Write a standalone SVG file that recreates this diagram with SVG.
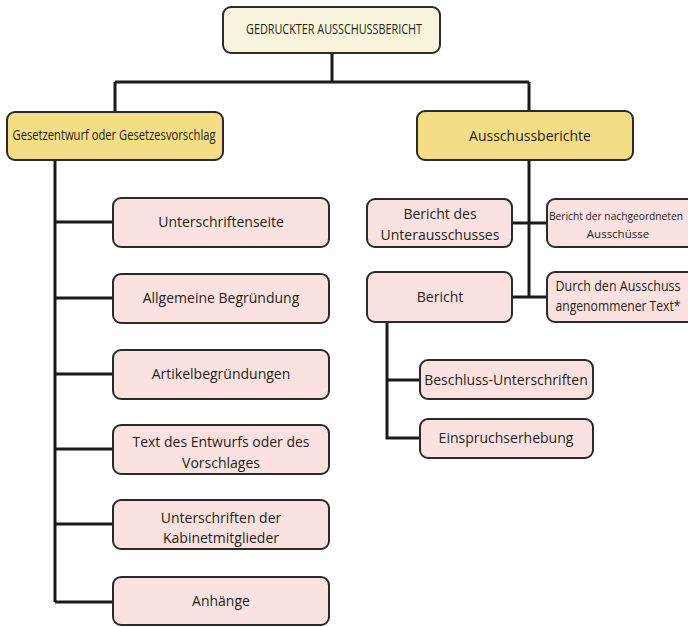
<svg xmlns="http://www.w3.org/2000/svg" width="688" height="627" viewBox="0 0 688 627">
  <style>
    .box { stroke: #2a2a2a; stroke-width: 2; }
    .root { fill: #f8f4dc; }
    .main { fill: #f5dd85; }
    .leaf { fill: #fbe1df; }
    .lbl { font-family: "Open Sans", "Liberation Sans", sans-serif; font-size: 14px; fill: #231f20; text-anchor: middle; }
    .cond { font-size: 11.5px; }
    .wire { fill: none; stroke: #1a1a1a; stroke-width: 3; }
  </style>
  <rect width="688" height="627" fill="#ffffff"/>

  <!-- connectors -->
  <g id="connectors" class="wire">
    <path d="M332 53 V82 M115 82 H529 M115 82 V112 M529 82 V111"/>
    <path d="M55 160 V602"/>
    <path d="M55 222 H113 M55 298 H113 M55 374 H113 M55 449 H113 M55 524 H113 M55 602 H113"/>
    <path d="M529 160 V297 M512 223 H547 M512 297 H547"/>
    <path d="M387 322 V438 H420 M387 380 H420"/>
  </g>

  <g id="n-root">
    <rect class="box root" x="223" y="7" width="217" height="46" rx="8"/>
    <text class="lbl" x="334" y="34" textLength="176" lengthAdjust="spacingAndGlyphs" font-size="12.5">GEDRUCKTER AUSSCHUSSBERICHT</text>
  </g>

  <g id="n-gesetz">
    <rect class="box main" x="7" y="112" width="216" height="48" rx="8"/>
    <text class="lbl" x="114" y="140" textLength="203" lengthAdjust="spacingAndGlyphs" font-size="13">Gesetzentwurf oder Gesetzesvorschlag</text>
  </g>

  <g id="n-ausschussberichte">
    <rect class="box main" x="417" y="111" width="216" height="49" rx="8"/>
    <text class="lbl" x="530" y="141" font-size="14.5">Ausschussberichte</text>
  </g>

  <g id="n-unterschriftenseite">
    <rect class="box leaf" x="113" y="198" width="216" height="49" rx="8"/>
    <text class="lbl" x="221" y="227">Unterschriftenseite</text>
  </g>
  <g id="n-allgemeine">
    <rect class="box leaf" x="113" y="274" width="216" height="49" rx="8"/>
    <text class="lbl" x="221" y="303">Allgemeine Begründung</text>
  </g>
  <g id="n-artikel">
    <rect class="box leaf" x="113" y="350" width="216" height="49" rx="8"/>
    <text class="lbl" x="221" y="379">Artikelbegründungen</text>
  </g>
  <g id="n-text">
    <rect class="box leaf" x="113" y="425" width="216" height="49" rx="8"/>
    <text class="lbl" x="221" y="447">Text des Entwurfs oder des</text>
    <text class="lbl" x="221" y="468">Vorschlages</text>
  </g>
  <g id="n-kabinett">
    <rect class="box leaf" x="113" y="500" width="216" height="49" rx="8"/>
    <text class="lbl" x="221" y="523">Unterschriften der</text>
    <text class="lbl" x="221" y="543">Kabinetmitglieder</text>
  </g>
  <g id="n-anhaenge">
    <rect class="box leaf" x="113" y="577" width="216" height="48" rx="8"/>
    <text class="lbl" x="221" y="606">Anhänge</text>
  </g>

  <g id="n-unterausschuss">
    <rect class="box leaf" x="367" y="199" width="145" height="48" rx="8"/>
    <text class="lbl" x="440" y="219">Bericht des</text>
    <text class="lbl" x="440" y="240">Unterausschusses</text>
  </g>
  <g id="n-nachgeordnet">
    <rect class="box leaf" x="547" y="199" width="150" height="48" rx="8"/>
    <text class="lbl cond" x="616" y="220" textLength="134" lengthAdjust="spacingAndGlyphs">Bericht der nachgeordneten</text>
    <text class="lbl cond" x="618" y="238">Ausschüsse</text>
  </g>
  <g id="n-bericht">
    <rect class="box leaf" x="367" y="272" width="145" height="50" rx="8"/>
    <text class="lbl" x="440" y="302">Bericht</text>
  </g>
  <g id="n-angenommen">
    <rect class="box leaf" x="547" y="272" width="150" height="50" rx="8"/>
    <text class="lbl" x="618" y="291" textLength="125" lengthAdjust="spacingAndGlyphs">Durch den Ausschuss</text>
    <text class="lbl" x="618" y="311" textLength="125" lengthAdjust="spacingAndGlyphs">angenommener Text*</text>
  </g>
  <g id="n-beschluss">
    <rect class="box leaf" x="420" y="360" width="173" height="39" rx="8"/>
    <text class="lbl" x="506" y="385">Beschluss-Unterschriften</text>
  </g>
  <g id="n-einspruch">
    <rect class="box leaf" x="420" y="419" width="173" height="39" rx="8"/>
    <text class="lbl" x="506" y="443">Einspruchserhebung</text>
  </g>
</svg>
